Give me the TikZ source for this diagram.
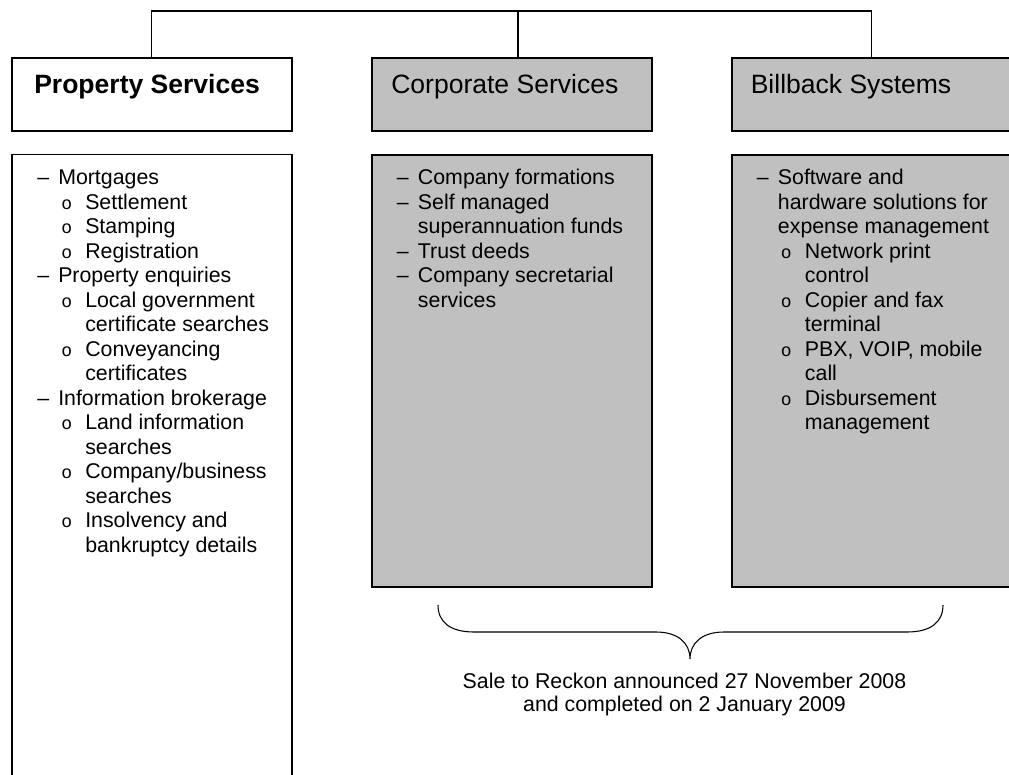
\documentclass[tikz,border=0pt]{standalone}
\usepackage{fontspec}
\setmainfont{Liberation Sans}
\newfontfamily\monofnt{Liberation Mono}
\definecolor{boxgray}{HTML}{C0C0C0}
\newcommand{\itA}[1]{\hbox{\makebox[15.75pt][l]{–}#1}}
\newcommand{\itAc}[1]{\hbox{\hspace*{15.75pt}#1}}
\newcommand{\itB}[1]{\hbox{\hspace*{18pt}\makebox[18pt][l]{\monofnt\fontsize{13.5}{16}\selectfont o}#1}}
\newcommand{\itBc}[1]{\hbox{\hspace*{36pt}#1}}
\tikzset{
  box/.style={draw=black, line width=1.2pt, rectangle, inner sep=0pt},
  graybox/.style={box, fill=boxgray},
  hdrtxt/.style={inner sep=0pt, anchor=base west, font=\fontsize{19.9}{23}\selectfont},
  bodytxt/.style={inner sep=0pt, anchor=base west, font=\fontsize{16}{18.4}\selectfont},
  link/.style={draw=black, line width=0.9pt}
}
\begin{document}
\begin{tikzpicture}[x=0.75pt,y=-0.75pt]
\useasboundingbox (0,0) rectangle (1009,774);
\clip (0,0) rectangle (1009,774);
% header boxes
\node[box, fill=white, minimum width=210pt, minimum height=54.75pt] (ps) at (151.7,94.5) {};
\node[graybox, minimum width=210.2pt, minimum height=54.75pt] (cs) at (511.85,94.5) {};
\node[graybox, minimum width=210pt, minimum height=54.75pt] (bs) at (871.7,94.5) {};
\node[hdrtxt, font=\fontsize{19.9}{23}\selectfont\bfseries] (pst) at (34,93.5) {Property Services};
\node[hdrtxt] (cst) at (391,93.5) {Corporate Services};
\node[hdrtxt] (bst) at (750.5,93.5) {Billback Systems};
% connectors
\coordinate (top) at (518,11);
\draw[link] (ps.north) -- (ps.north |- top) -- (bs.north |- top) -- (bs.north);
\draw[link] ([xshift=4.6pt]cs.north) -- ([xshift=4.6pt]cs.north |- top);
% body boxes
\node[box, fill=white, minimum width=210pt, minimum height=484pt] (pb) at (151.7,477.35) {};
\node[graybox, minimum width=210.2pt, minimum height=324pt] (cb) at (511.85,370.7) {};
\node[graybox, minimum width=210pt, minimum height=324pt] (bb) at (871.7,370.7) {};
% body texts
\node[bodytxt] (pbt) at (37,184.5) {\vtop{\baselineskip=18.4pt
  \itA{Mortgages}
  \itB{Settlement}
  \itB{Stamping}
  \itB{Registration}
  \itA{Property enquiries}
  \itB{Local government}
  \itBc{certificate searches}
  \itB{Conveyancing}
  \itBc{certificates}
  \itA{Information brokerage}
  \itB{Land information}
  \itBc{searches}
  \itB{Company/business}
  \itBc{searches}
  \itB{Insolvency and}
  \itBc{bankruptcy details}}};
\node[bodytxt] (cbt) at (396.7,184.5) {\vtop{\baselineskip=18.4pt
  \itA{Company formations}
  \itA{Self managed}
  \itAc{superannuation funds}
  \itA{Trust deeds}
  \itA{Company secretarial}
  \itAc{services}}};
\node[bodytxt] (bbt) at (756.7,184.5) {\vtop{\baselineskip=18.4pt
  \itA{Software and}
  \itAc{hardware solutions for}
  \itAc{expense management}
  \itB{Network print}
  \itBc{control}
  \itB{Copier and fax}
  \itBc{terminal}
  \itB{PBX, VOIP, mobile}
  \itBc{call}
  \itB{Disbursement}
  \itBc{management}}};
% brace
\coordinate (brL) at (438,605);
\coordinate (brR) at (943,605);
\coordinate (brTip) at (690,659);
\draw[link, line width=0.8pt] (brL) .. controls (438,622) and (450,632) .. (474,632) -- (656,632)
  .. controls (678,632) and (690,643) .. (brTip)
  .. controls (690,643) and (702,632) .. (724,632) -- (907,632)
  .. controls (931,632) and (943,622) .. (brR);
% sale text
\node[inner sep=0pt, anchor=base, font=\fontsize{16}{17.6}\selectfont] (sale) at (684.5,688.3)
  {\begin{tabular}[t]{@{}c@{}}Sale to Reckon announced 27 November 2008\\ and completed on 2 January 2009\end{tabular}};
\end{tikzpicture}
\end{document}
